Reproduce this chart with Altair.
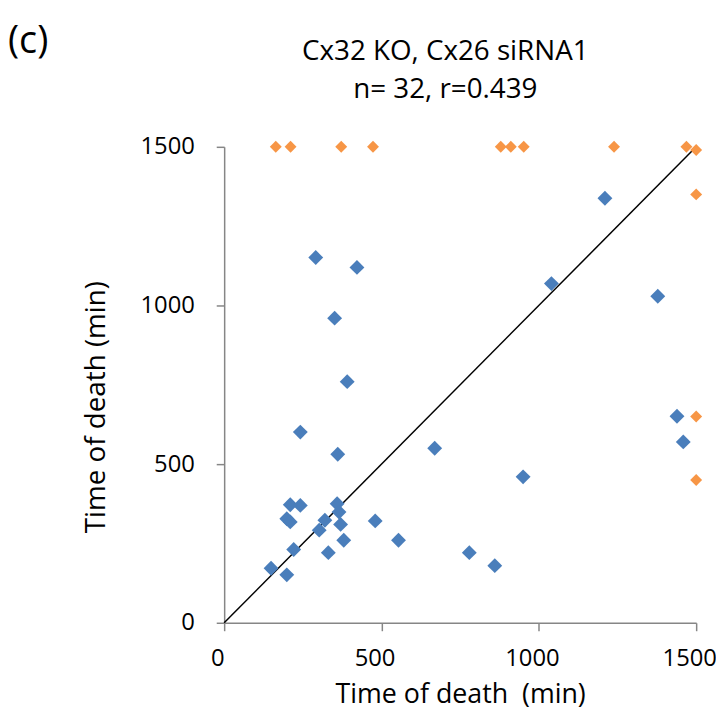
import altair as alt
import pandas as pd

# Blue series (both times observed)
blue_x = [1210, 1378, 1439, 1459, 669, 950, 554, 779, 860, 291, 422, 351, 391,
          242, 361, 210, 242, 359, 365, 199, 210, 320, 302, 370, 480, 380, 221,
          331, 149, 199, 1040]
blue_y = [1338, 1029, 651, 570, 550, 460, 260, 221, 180, 1151, 1120, 960, 760,
          601, 531, 372, 370, 375, 349, 328, 318, 323, 292, 310, 321, 260, 231,
          221, 172, 151, 1069]

# Orange series (censored at 1500)
orange_x = [164, 211, 372, 473, 879, 911, 952, 1239, 1469, 1500, 1500, 1500, 1500]
orange_y = [1500, 1500, 1500, 1500, 1500, 1500, 1500, 1500, 1500, 1490, 1350, 650, 450]

diag_x = [0, 1500]
diag_y = [0, 1500]

tick_values = [0, 500, 1000, 1500]
title_line1 = ["Cx32 KO, Cx26 siRNA1"]
title_line2 = ["n= 32, r=0.439"]
panel_label = ["(c)"]
x_title = "Time of death\u00a0 (min)"
y_title = "Time of death (min)"

FONT = "Open Sans"

blue_df = pd.DataFrame({"x": blue_x, "y": blue_y})
orange_df = pd.DataFrame({"x": orange_x, "y": orange_y})
diag_df = pd.DataFrame({"x": diag_x, "y": diag_y})

xscale = alt.Scale(domain=[0, 1500], nice=False, zero=True)
yscale = alt.Scale(domain=[0, 1500], nice=False, zero=True)

xaxis = alt.Axis(values=tick_values, format="d", title=x_title, grid=False,
                 domainColor="#868686", tickColor="#868686", tickSize=8,
                 domainWidth=1.5, tickWidth=1.5,
                 labelFontSize=24, labelFont=FONT, labelColor="black",
                 labelPadding=16, labelOffset=-7, titleFont=FONT, titleFontSize=27,
                 titleFontWeight="normal", titleColor="black", titlePadding=11,
                 labelFlush=False)
yaxis = alt.Axis(values=tick_values, format="d", title=y_title, grid=False,
                 domainColor="#868686", tickColor="#868686", tickSize=8,
                 domainWidth=1.5, tickWidth=1.5,
                 labelFontSize=24, labelFont=FONT, labelColor="black",
                 labelPadding=22, titleFont=FONT, titleFontSize=28,
                 titleFontWeight="normal", titleColor="black",
                 titleY=262, titlePadding=30, labelFlush=False)

diag = alt.Chart(diag_df).mark_line(color="black", strokeWidth=1.5).encode(
    x=alt.X("x:Q", scale=xscale, axis=xaxis),
    y=alt.Y("y:Q", scale=yscale, axis=yaxis),
)

blue = alt.Chart(blue_df).mark_point(shape="diamond", filled=True, opacity=1,
                                     color="#4A7EBB", size=225).encode(
    x=alt.X("x:Q", scale=xscale),
    y=alt.Y("y:Q", scale=yscale),
)

orange = alt.Chart(orange_df).mark_point(shape="diamond", filled=True, opacity=1,
                                         color="#F79646", size=144).encode(
    x=alt.X("x:Q", scale=xscale),
    y=alt.Y("y:Q", scale=yscale),
)


def text_layer(values, size, x, y, align):
    return alt.Chart(pd.DataFrame({"t": values})).mark_text(
        fontSize=size, font=FONT, color="black", align=align, baseline="middle"
    ).encode(text="t:N", x=alt.value(x), y=alt.value(y))


label = text_layer(panel_label, 38, -218, -106, "left")
t1 = text_layer(title_line1, 28, 223, -96, "center")
t2 = text_layer(title_line2, 28, 223, -57, "center")

chart = alt.layer(diag, blue, orange, label, t1, t2).properties(
    width=476,
    height=480,
    autosize=alt.AutoSizeParams(type="none"),
    padding={"left": 218, "top": 137, "right": 20, "bottom": 90},
).configure_view(stroke=None)

chart.save("out.html", embed_options={"renderer": "svg", "actions": False})
